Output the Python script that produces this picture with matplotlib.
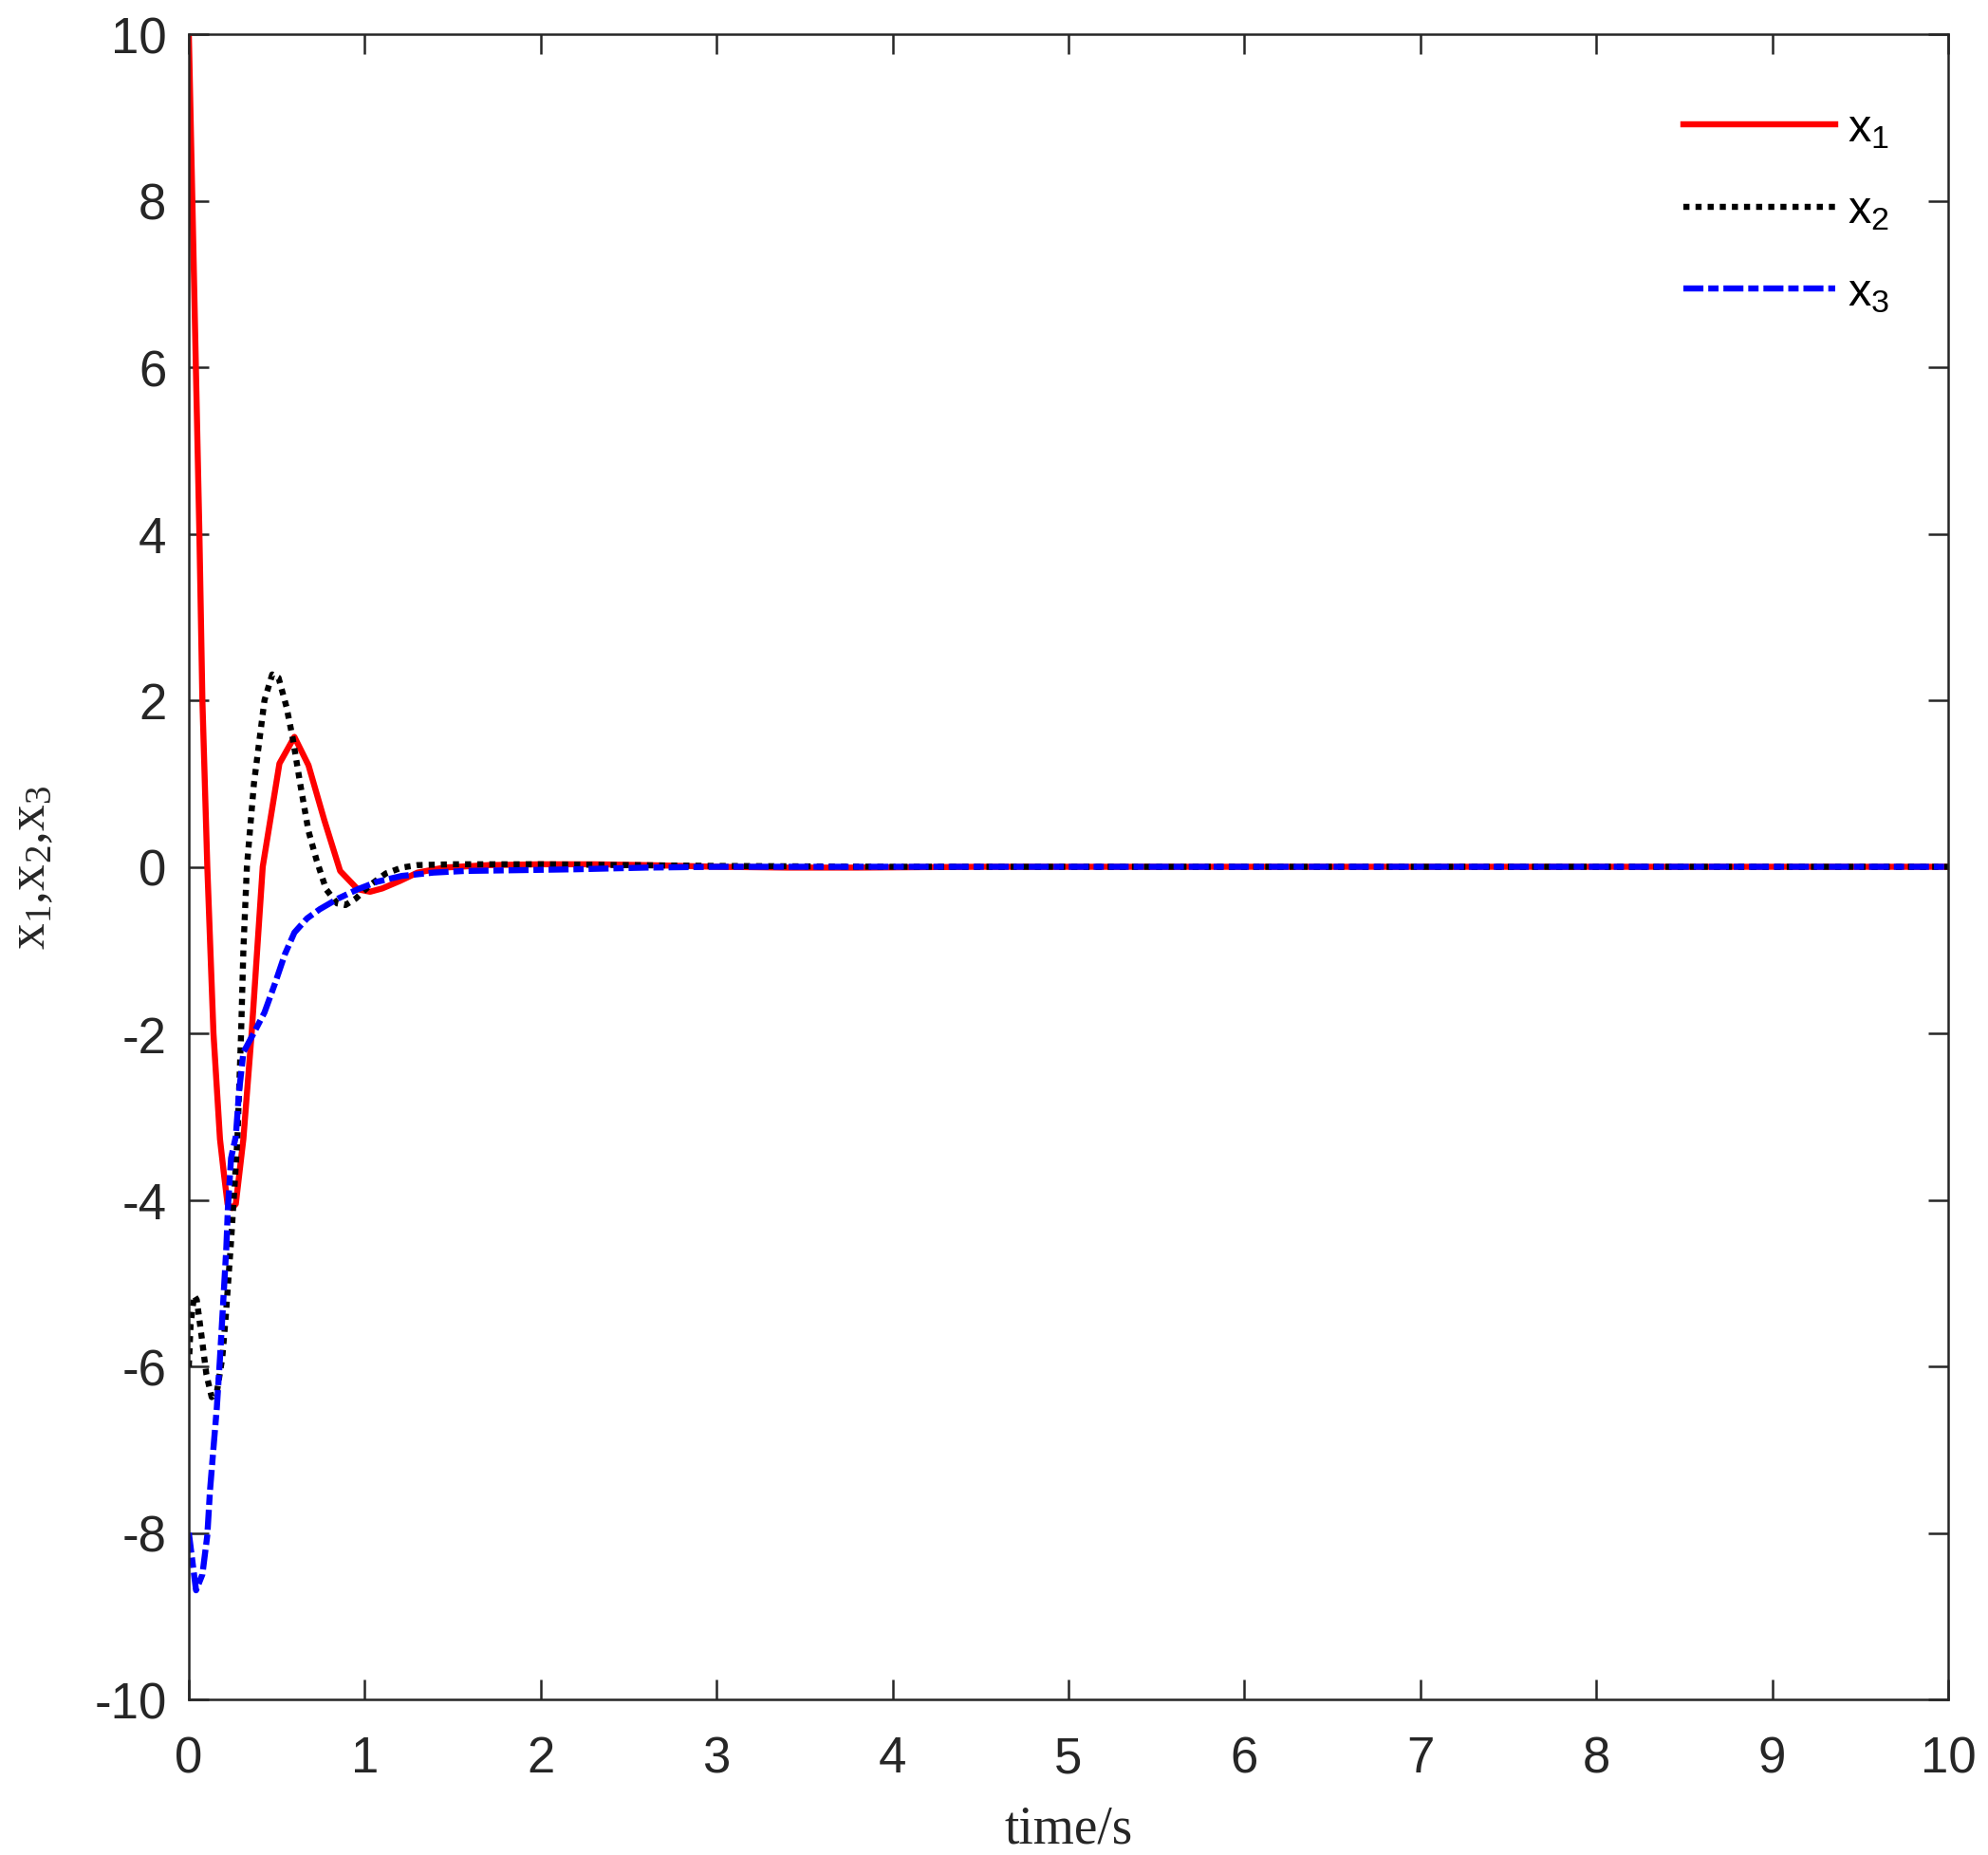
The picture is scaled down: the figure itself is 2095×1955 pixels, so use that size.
import matplotlib
matplotlib.use("Agg")
import matplotlib.pyplot as plt

DPI = 100

# values
t1 = [0, 0.02, 0.04, 0.06, 0.077, 0.105, 0.14, 0.177, 0.2, 0.22, 0.245, 0.267,
      0.31, 0.357, 0.42, 0.515, 0.6, 0.68, 0.77, 0.86, 0.96, 1.03, 1.1, 1.2,
      1.3, 1.45, 1.7, 2.0, 2.3, 2.6, 3.0, 3.4, 3.8, 4.5, 6, 10]
x1 = [10, 8, 6, 4, 2, 0, -2, -3.27, -3.7, -4.05, -4.1, -4.05,
      -3.27, -2, 0, 1.24, 1.56, 1.22, 0.56, -0.05, -0.27, -0.3, -0.26, -0.17,
      -0.07, -0.01, 0.02, 0.03, 0.03, 0.02, 0.0, -0.01, -0.01, 0, 0, 0]

t2 = [0, 0.01, 0.03, 0.045, 0.07, 0.1, 0.13, 0.16, 0.19, 0.21, 0.24, 0.255,
      0.276, 0.297, 0.31, 0.33, 0.37, 0.40, 0.43, 0.474, 0.51, 0.555, 0.59,
      0.636, 0.68, 0.726, 0.78, 0.843, 0.89, 0.95, 1.03, 1.12, 1.21, 1.3, 1.5,
      2.0, 2.5, 3.0, 4, 10]
x2 = [-6, -5.5, -5.15, -5.2, -5.6, -6.1, -6.37, -6.3, -5.9, -5.4, -4.5, -4.0,
      -3.27, -2, -1, 0, 1, 1.5, 2.0, 2.31, 2.27, 1.92, 1.55,
      0.96, 0.43, 0.08, -0.27, -0.44, -0.46, -0.38, -0.22, -0.08, -0.01, 0.02, 0.03,
      0.03, 0.02, 0.01, 0, 0]

t3 = [0, 0.041, 0.077, 0.105, 0.12, 0.14, 0.159, 0.177, 0.195, 0.213, 0.222,
      0.24, 0.267, 0.285, 0.31, 0.366, 0.43, 0.49, 0.546, 0.6, 0.672, 0.744,
      0.85, 0.96, 1.07, 1.21, 1.39, 1.57, 1.9, 2.2, 2.6, 3.0, 4, 10]
x3 = [-8, -8.69, -8.5, -8.03, -7.5, -6.98, -6.5, -5.9, -5.24, -4.58, -4.1,
      -3.5, -3.24, -2.71, -2.23, -2.01, -1.75, -1.4, -1.05, -0.79, -0.62, -0.51,
      -0.38, -0.27, -0.18, -0.11, -0.07, -0.05, -0.04, -0.03, -0.01, 0, 0, 0]

xticks = list(range(0, 11))
yticks = list(range(-10, 11, 2))

plt.rcParams['font.family'] = ['Liberation Sans', 'DejaVu Sans']
plt.rcParams['axes.unicode_minus'] = False
plt.rcParams['mathtext.fontset'] = 'custom'
plt.rcParams['mathtext.rm'] = 'Liberation Serif'
plt.rcParams['mathtext.it'] = 'Liberation Serif:italic'
plt.rcParams['mathtext.sf'] = 'Liberation Sans'

axc = '#262626'
LW = 4.6

fig = plt.figure(figsize=(2095 / DPI, 1956 / DPI), dpi=DPI)
ax = fig.add_axes([199 / 2095, 1 - 1792 / 1956, (2053 - 199) / 2095, (1792 - 37) / 1956])

ax.plot(t1, x1, c='#ff0000', lw=LW, label=r'$\mathsf{x_1}$')
ax.plot(t2, x2, c='#000000', lw=LW, ls=(0, (1, 1)), dash_capstyle='butt',
        label=r'$\mathsf{x_2}$')
ax.plot(t3, x3, c='#0000ff', lw=LW, ls=(0, (3.3, 0.8, 1.7, 0.8)),
        dash_capstyle='butt', label=r'$\mathsf{x_3}$')

ax.set_xlim(0, 10)
ax.set_ylim(-10, 10)
ax.set_xticks(xticks)
ax.set_yticks(yticks)

for s in ax.spines.values():
    s.set_linewidth(1.8)
    s.set_color(axc)
ax.tick_params(direction='in', length=15, width=1.8, color=axc,
               labelcolor=axc, labelsize=38, top=True, right=True)
ax.tick_params(axis='x', pad=27)
ax.tick_params(axis='y', pad=17)

ax.set_xlabel('time/s', fontsize=40, family='Liberation Serif', color=axc)
ax.xaxis.set_label_coords(0.5, -151 / 1755)
ax.xaxis.label.set_verticalalignment('baseline')
ax.set_ylabel(r'$\mathrm{x_1{,}x_2{,}x_3}$', fontsize=40, color=axc)
ax.yaxis.set_label_coords(-166 / 1854, 0.5)
ax.yaxis.label.set_verticalalignment('center')
ax.yaxis.label.set_horizontalalignment('center')

ax.legend(loc='upper left', bbox_to_anchor=(0.8495, 0.956), frameon=False,
          fontsize=35, handlelength=3.3, handletextpad=0.25, labelspacing=0.85,
          borderpad=0, borderaxespad=0)

fig.savefig('out.png', dpi=DPI)
